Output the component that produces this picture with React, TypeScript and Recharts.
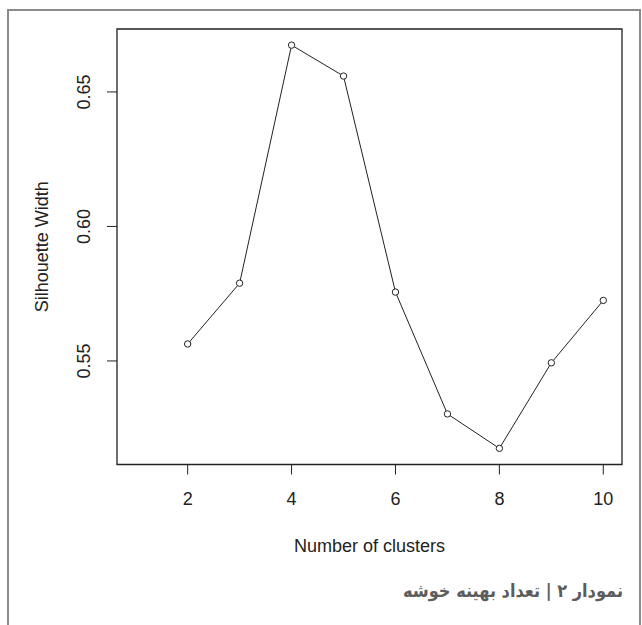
import React from 'react';
import { LineChart, Line, XAxis, YAxis, ReferenceArea, Label } from 'recharts';

const clusters = [2, 3, 4, 5, 6, 7, 8, 9, 10];
const silhouette = [0.5563, 0.5789, 0.6674, 0.6559, 0.5756, 0.5303, 0.5175, 0.5493, 0.5725];
const xTicks = [2, 4, 6, 8, 10];
const yTicks = [0.55, 0.6, 0.65];
const xDomain: [number, number] = [0.64, 10.36];
const yDomain: [number, number] = [0.5115, 0.6734];

const data = clusters.map((k, i) => ({ k, sil: silhouette[i] }));

const textFont = "'Liberation Sans', Arial, sans-serif";
const ink = '#222';

const YTick = (props: any) => {
  const { x, y, payload } = props;
  return (
    <text
      x={x}
      y={y}
      transform={`rotate(-90 ${x} ${y})`}
      textAnchor="middle"
      fontSize={18}
      fontFamily={textFont}
      fill={ink}
    >
      {Number(payload.value).toFixed(2)}
    </text>
  );
};

const YTitle = (props: any) => {
  const { viewBox } = props;
  const x = 48;
  const y = viewBox.y + viewBox.height / 2;
  return (
    <text
      x={x}
      y={y}
      transform={`rotate(-90 ${x} ${y})`}
      textAnchor="middle"
      fontSize={18}
      fontFamily={textFont}
      fill={ink}
    >
      Silhouette Width
    </text>
  );
};

export default function App() {
  return (
    <div
      style={{
        position: 'absolute',
        left: 0,
        top: 0,
        width: 642,
        height: 625,
        overflow: 'hidden',
        background: '#fff',
      }}
    >
      <div
        style={{
          position: 'absolute',
          left: 7,
          top: 9,
          width: 634,
          height: 700,
          border: '2px solid #8c8c8c',
          boxSizing: 'border-box',
        }}
      />
      <div style={{ position: 'absolute', left: 0, top: 0 }}>
        <LineChart
          width={642}
          height={625}
          data={data}
          margin={{ top: 29, right: 20, left: 0, bottom: 60.5 }}
        >
          <XAxis
            dataKey="k"
            type="number"
            domain={xDomain}
            ticks={xTicks}
            allowDataOverflow
            axisLine={false}
            tickSize={10}
            tickMargin={18}
            height={100}
            tickLine={{ stroke: ink, strokeWidth: 1 }}
            tick={{ fill: ink, fontSize: 18, fontFamily: textFont }}
          >
            <Label
              value="Number of clusters"
              position="insideBottom"
              offset={13}
              style={{ fill: ink, fontSize: 18, fontFamily: textFont }}
            />
          </XAxis>
          <YAxis
            type="number"
            domain={yDomain}
            ticks={yTicks}
            allowDataOverflow
            axisLine={false}
            width={117}
            tickSize={10}
            tickMargin={17}
            tickLine={{ stroke: ink, strokeWidth: 1 }}
            tick={<YTick />}
          >
            <Label content={<YTitle />} />
          </YAxis>
          <ReferenceArea
            x1={xDomain[0]}
            x2={xDomain[1]}
            y1={yDomain[0]}
            y2={yDomain[1]}
            fill="none"
            fillOpacity={0}
            stroke={ink}
            strokeWidth={1.3}
            strokeOpacity={1}
          />
          <Line
            type="linear"
            dataKey="sil"
            stroke="#222"
            strokeWidth={1}
            dot={{ r: 3.2, stroke: '#222', strokeWidth: 1, fill: '#fff', fillOpacity: 1 }}
            activeDot={false}
            isAnimationActive={false}
          />
        </LineChart>
      </div>
      <div
        style={{
          position: 'absolute',
          right: 19,
          top: 580,
          direction: 'rtl',
          fontFamily: "'DejaVu Sans Condensed', 'DejaVu Sans', sans-serif",
          fontWeight: 'bold',
          fontSize: 18,
          color: '#5c5c5c',
          whiteSpace: 'nowrap',
        }}
      >
        نمودار ۲ | تعداد بهینه خوشه
      </div>
    </div>
  );
}
